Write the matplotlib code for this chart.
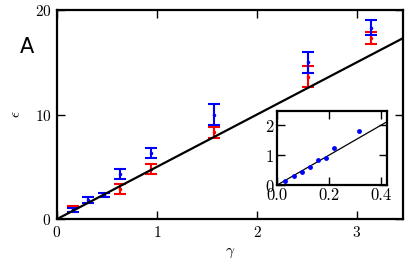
import numpy as np
import matplotlib
matplotlib.use("Agg")
import matplotlib.pyplot as plt

plt.rcParams['font.family'] = 'cmr10'
plt.rcParams['mathtext.fontset'] = 'cm'
plt.rcParams['axes.formatter.use_mathtext'] = True

# Main panel data
gamma_red = [0.157, 0.628, 0.942, 1.571, 2.513, 3.142]
eps_red = [0.95, 2.9, 4.8, 8.3, 13.6, 17.3]
err_red = [0.3, 0.5, 0.5, 0.55, 1.0, 0.6]

gamma_blue = [0.157, 0.314, 0.471, 0.628, 0.942, 1.571, 2.513, 3.142]
eps_blue = [0.85, 1.85, 2.3, 4.3, 6.3, 10.0, 15.0, 18.3]
err_blue = [0.2, 0.3, 0.2, 0.5, 0.5, 1.0, 1.0, 0.7]

slope = 5.0
main_xlim = [0, 3.46]
main_ylim = [0, 20]
main_xticks = [0, 1, 2, 3]
main_yticks = [0, 10, 20]

# Inset data
inset_x = [0.031, 0.063, 0.095, 0.127, 0.159, 0.188, 0.220, 0.315]
inset_y = [0.13, 0.29, 0.43, 0.59, 0.84, 0.89, 1.23, 1.82]
inset_xlim = [0, 0.423]
inset_ylim = [0, 2.47]
inset_xticks = [0.0, 0.2, 0.4]
inset_yticks = [0, 1, 2]

fig = plt.figure(figsize=(4.07, 2.77), dpi=100)
ax = fig.add_axes([0.140, 0.209, 0.850, 0.755])

xs = np.array(main_xlim)
ax.plot(xs, slope * xs, color='black', lw=1.6, zorder=3)
ax.errorbar(gamma_red, eps_red, yerr=err_red, fmt='o', color='red', ms=1.5,
            capsize=4.5, elinewidth=1.5, capthick=1.5, zorder=2)
ax.errorbar(gamma_blue, eps_blue, yerr=err_blue, fmt='o', color='blue', ms=1.5,
            capsize=4.5, elinewidth=1.5, capthick=1.5, zorder=2.5)

ax.set_xlim(main_xlim)
ax.set_ylim(main_ylim)
ax.set_xticks(main_xticks)
ax.set_yticks(main_yticks)
ax.tick_params(direction='in', top=True, right=True, length=6, width=1, labelsize=11, pad=4)
for s in ax.spines.values():
    s.set_linewidth(1.6)
ax.set_xlabel(r'$\gamma$', fontsize=11, labelpad=4)
ax.set_ylabel(r'$\epsilon$', fontsize=11, labelpad=8, rotation=90)
fig.text(0.067, 0.83, 'A', fontsize=15, family='DejaVu Sans', ha='center', va='center')

ins = fig.add_axes([0.681, 0.332, 0.270, 0.267])
xi = np.array(inset_xlim)
ins.plot(xi, slope * xi, color='black', lw=0.9)
ins.plot(inset_x, inset_y, 'o', color='blue', ms=3.5, mec='none')
ins.set_xlim(inset_xlim)
ins.set_ylim(inset_ylim)
ins.set_xticks(inset_xticks)
ins.set_yticks(inset_yticks)
ins.xaxis.set_major_formatter(matplotlib.ticker.FormatStrFormatter('%.1f'))
ins.tick_params(direction='in', top=True, right=True, length=6, width=1, labelsize=12, pad=2)
for s in ins.spines.values():
    s.set_linewidth(1.6)

fig.savefig('out.png', dpi=100)
